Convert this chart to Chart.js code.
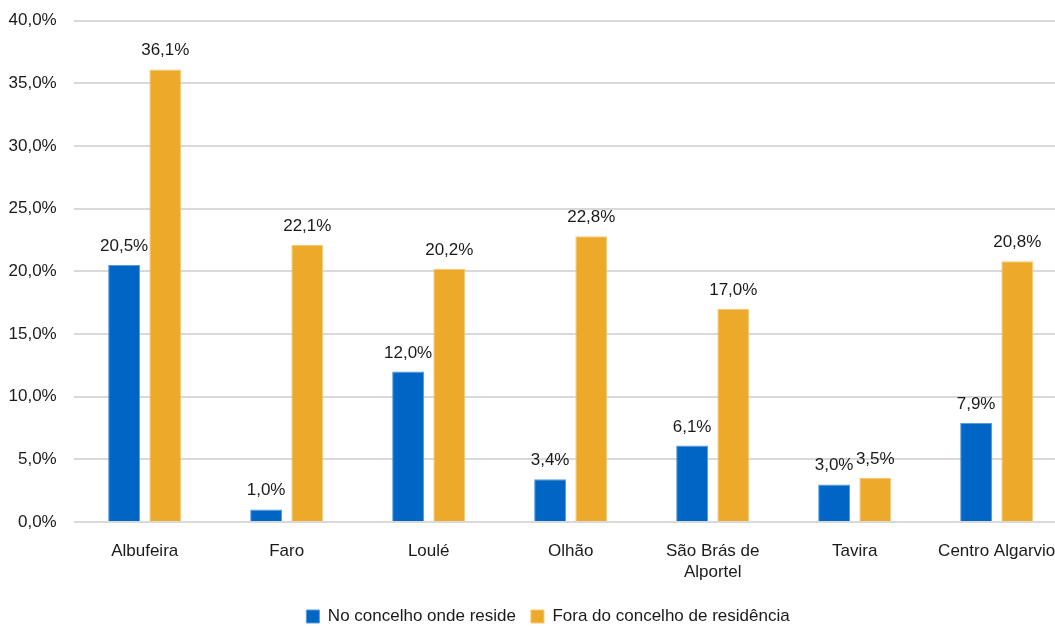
<!DOCTYPE html>
<html>
<head>
<meta charset="utf-8">
<script src="https://cdn.jsdelivr.net/npm/chart.js@4/dist/chart.umd.min.js"></script>
<style>
  html, body { margin: 0; padding: 0; background: #fff; overflow: hidden; }
  #chart { display: block; }
</style>
</head>
<body>
<canvas id="chart" width="1070" height="627"></canvas>
<script>
const categories = [
  "Albufeira", "Faro", "Loulé", "Olhão",
  ["São Brás de", "Alportel"], "Tavira", "Centro Algarvio"
];
const noConcelho = [20.5, 1.0, 12.0, 3.4, 6.1, 3.0, 7.9];
const foraConcelho = [36.1, 22.1, 20.2, 22.8, 17.0, 3.5, 20.8];
const yTicks = [0, 5, 10, 15, 20, 25, 30, 35, 40];
const seriesNames = ["No concelho onde reside", "Fora do concelho de residência"];

const fontFamily = "'Liberation Sans', Arial, sans-serif";
const fontSize = 17;
const textColor = "#1a1a1a";

const pct = (v) => v.toFixed(1).replace(".", ",") + "%";

// widest y label, so the mirrored ticks can be pushed back left of the axis
const measureCtx = document.createElement("canvas").getContext("2d");
measureCtx.font = fontSize + "px " + fontFamily;
const widestTick = Math.max(...yTicks.map((v) => measureCtx.measureText(pct(v)).width));

// value labels above every bar
const barLabels = {
  id: "barLabels",
  afterDatasetsDraw(chart) {
    const ctx = chart.ctx;
    ctx.save();
    ctx.font = fontSize + "px " + fontFamily;
    ctx.fillStyle = textColor;
    ctx.textAlign = "center";
    ctx.textBaseline = "alphabetic";
    chart.data.datasets.forEach((ds, i) => {
      chart.getDatasetMeta(i).data.forEach((bar, j) => {
        ctx.fillText(pct(ds.data[j]), bar.x, bar.y - 14);
      });
    });
    ctx.restore();
  },
};

new Chart(document.getElementById("chart"), {
  type: "bar",
  data: {
    labels: categories,
    datasets: [
      {
        label: seriesNames[0],
        data: noConcelho,
        backgroundColor: "#0066c6",
        borderColor: "#5a9ad8",
        borderWidth: 1,
        barPercentage: 0.775,
        categoryPercentage: 0.58,
      },
      {
        label: seriesNames[1],
        data: foraConcelho,
        backgroundColor: "#eda92a",
        borderColor: "#f4c874",
        borderWidth: 1,
        barPercentage: 0.775,
        categoryPercentage: 0.58,
      },
    ],
  },
  options: {
    responsive: false,
    animation: false,
    layout: { padding: { top: 20.5, right: 2.3, left: 28.3, bottom: -8 } },
    plugins: {
      legend: {
        position: "bottom",
        labels: {
          color: textColor,
          font: { family: fontFamily, size: fontSize },
          boxWidth: 13,
          boxHeight: 13,
          padding: 15,
        },
      },
      tooltip: { enabled: false },
    },
    scales: {
      y: {
        min: 0,
        max: 40,
        afterFit: (scale) => { scale.width = 45.4; },
        ticks: {
          stepSize: 5,
          mirror: true,
          crossAlign: "far",
          padding: -17 - widestTick,
          color: textColor,
          font: { family: fontFamily, size: fontSize },
          callback: (v) => pct(v),
        },
        grid: { color: "#d9d9d9", lineWidth: 2, drawTicks: false },
        border: { display: false },
      },
      x: {
        afterFit: (scale) => { scale.height = 71; },
        ticks: {
          color: textColor,
          font: { family: fontFamily, size: fontSize },
          padding: 11.5,
          maxRotation: 0,
        },
        grid: { display: false },
        border: { display: false },
      },
    },
  },
  plugins: [barLabels],
});
</script>
</body>
</html>
